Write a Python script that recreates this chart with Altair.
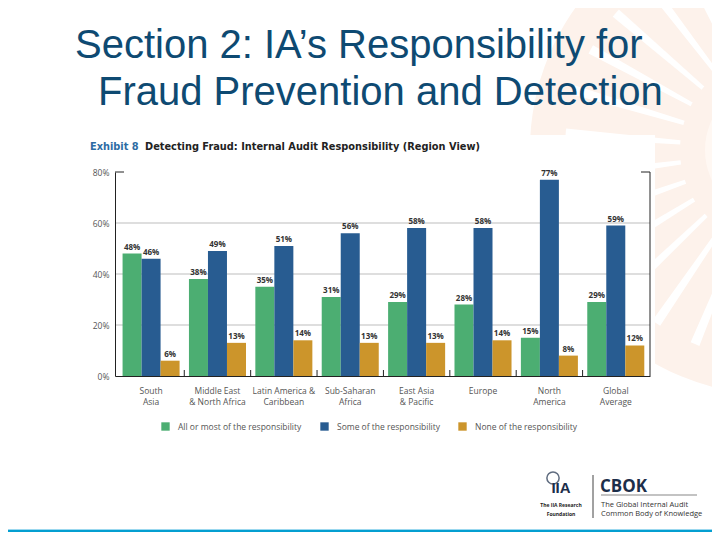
import altair as alt
import pandas as pd

# ---------------- data ----------------
region_labels = ["South|Asia", "Middle East|& North Africa", "Latin America &|Caribbean",
                 "Sub-Saharan|Africa", "East Asia|& Pacific", "Europe",
                 "North|America", "Global|Average"]
series = ["All or most of the responsibility", "Some of the responsibility",
          "None of the responsibility"]
all_most = [48, 38, 35, 31, 29, 28, 15, 29]
some = [46, 49, 51, 56, 58, 58, 77, 59]
none_ = [6, 13, 14, 13, 13, 14, 8, 12]
colors = ["#4cae72", "#285c91", "#cc952b"]
y_ticks = [0, 20, 40, 60, 80]
grid_values = [20, 40, 60]

rows = []
for i, r in enumerate(region_labels):
    for s, vals in zip(series, [all_most, some, none_]):
        rows.append({"region": r, "series": s, "value": vals[i]})
df = pd.DataFrame(rows)
sep_df = pd.DataFrame({"region": region_labels[:-1]})
grid_df = pd.DataFrame({"value": grid_values})

W, H = 535, 204
FONT = "Open Sans"
PAD_IN, PAD_OUT, ALIGN = 0.141, 0.1, 0.57

xscale = alt.Scale(domain=region_labels, paddingInner=PAD_IN, paddingOuter=PAD_OUT, align=ALIGN)
yscale = alt.Scale(domain=[0, 80], nice=False)

base = alt.Chart(df).encode(
    x=alt.X("region:N", sort=region_labels, scale=xscale,
            axis=alt.Axis(title=None, labelExpr="split(datum.label, '|')", labelAngle=0,
                          ticks=False, domainColor="#222", domainWidth=1, zindex=1,
                          labelFont=FONT, labelFontSize=8.5, labelColor="#555",
                          labelPadding=10, labelLineHeight=11)),
    xOffset=alt.XOffset("series:N", sort=series, scale=alt.Scale(domain=series)),
    y=alt.Y("value:Q", scale=yscale,
            axis=alt.Axis(values=y_ticks, title=None, ticks=False, domainColor="#222",
                          domainWidth=1, labelExpr="datum.value + '%'", grid=False, zindex=1,
                          labelFont=FONT, labelFontSize=8.5, labelColor="#555",
                          labelPadding=6)),
)

gridlines = alt.Chart(grid_df).mark_rule(color="#bdbdbd", strokeWidth=1).encode(
    y=alt.Y("value:Q", scale=yscale))

bars = base.mark_bar().encode(
    color=alt.Color("series:N", sort=series, scale=alt.Scale(domain=series, range=colors),
                    legend=alt.Legend(orient="none", legendX=46, legendY=250,
                                      direction="horizontal", title=None,
                                      symbolType="square", symbolSize=70,
                                      symbolStrokeWidth=0, labelFont=FONT,
                                      labelFontSize=8.5, labelColor="#555",
                                      columnPadding=18, labelOffset=8))
)

labels = base.transform_calculate(lbl="datum.value + '%'").mark_text(
    dy=-6, fontSize=8, fontWeight="bold", font=FONT, color="#333"
).encode(text="lbl:N")

# group separator ticks on the x axis (midway in the gap after each group)
step = W / (len(region_labels) - PAD_IN + 2 * PAD_OUT)
half_gap = step * PAD_IN / 2
seps = alt.Chart(sep_df).mark_rule(color="#222", xOffset=half_gap).encode(
    x=alt.X("region:N", sort=region_labels, scale=xscale, bandPosition=1),
    y=alt.value(H), y2=alt.value(H - 6)
)

one = pd.DataFrame({"a": [0]})

def txt(s, x, y, size, color, weight="normal", font=FONT, align="left"):
    return alt.Chart(one).mark_text(align=align, baseline="alphabetic", fontSize=size,
                                    fontWeight=weight, font=font, color=color).encode(
        x=alt.value(x), y=alt.value(y), text=alt.value(s))

def rule(x, x2, y, y2, color="#222", w=1):
    return alt.Chart(one).mark_rule(color=color, strokeWidth=w).encode(
        x=alt.value(x), x2=alt.value(x2), y=alt.value(y), y2=alt.value(y2))

def rect(x, x2, y, y2, color):
    return alt.Chart(one).mark_rect(color=color).encode(
        x=alt.value(x), x2=alt.value(x2), y=alt.value(y), y2=alt.value(y2))

# faint decorative sunburst in the slide background (top right)
CX, CY = 660, -22
disc = alt.Chart(one).mark_arc(color="#fdf2eb", innerRadius=0, outerRadius=245).encode(
    x=alt.value(CX), y=alt.value(CY), theta=alt.value(0), theta2=alt.value(6.2832))
rays = []
for k in range(14):
    a0 = 3.30 + k * 0.21
    rays.append(alt.Chart(one).mark_arc(color="white", innerRadius=95, outerRadius=210).encode(
        x=alt.value(CX), y=alt.value(CY), theta=alt.value(a0), theta2=alt.value(a0 + 0.045)))
inner = alt.Chart(one).mark_arc(color="#fff8f3", innerRadius=0, outerRadius=70).encode(
    x=alt.value(CX), y=alt.value(CY), theta=alt.value(0), theta2=alt.value(6.2832))
exhibit_bg = rect(-30, 540, -37, 268, "white")

deco = [
    rule(W, W, 0, H),
    rule(0, 9, 0, 0),
    rule(W - 9, W, 0, 0),
]

title1 = txt("Section 2: IA\u2019s Responsibility for", -40, -114, 40, "#0e4a72", font="Liberation Sans")
title2 = txt("Fraud Prevention and Detection", -17, -67, 40, "#0e4a72", font="Liberation Sans")
exh1 = txt("Exhibit 8", -25, -22, 9.8, "#2d6ca3", weight="bold", font="DejaVu Sans")
exh2 = txt("Detecting Fraud: Internal Audit Responsibility (Region View)", 30, -22, 9.8, "#222",
           weight="bold", font="DejaVu Sans")

# logos at bottom right
cbok = txt("CBOK", 485, 320, 17, "#1c2e4a", weight="bold")
cbok_line = rule(486, 582, 323, 323, color="#555", w=0.7)
cbok_t1 = txt("The Global Internal Audit", 486, 335, 7.5, "#333")
cbok_t2 = txt("Common Body of Knowledge", 486, 344, 7.5, "#333")
vline = rule(478, 478, 303, 346, color="#444", w=1)
globe = alt.Chart(one).mark_point(shape="circle", filled=False, size=150, color="#1c2e4a",
                                  strokeWidth=1.5).encode(x=alt.value(438), y=alt.value(306))
iia = txt("IIA", 446, 321, 15, "#1c2e4a", weight="bold", align="center", font="Liberation Sans")
iia_t1 = txt("The IIA Research", 446, 334.5, 5, "#222", weight="bold", align="center")
iia_t2 = txt("Foundation", 446, 343.5, 5, "#222", weight="bold", align="center")

bottom_light = rect(-107, 597, 357, 358, "#9bd8ef")
bottom_bar = rect(-107, 597, 358, 366, "#049fd1")

chart = alt.layer(
    disc, *rays, inner, exhibit_bg, gridlines,
    bars, labels, seps, *deco, title1, title2, exh1, exh2,
    cbok, cbok_line, cbok_t1, cbok_t2, vline, globe, iia, iia_t1, iia_t2,
    bottom_light, bottom_bar
).properties(
    width=W, height=H,
    autosize=alt.AutoSizeParams(type="none"),
    padding={"left": 107, "top": 164, "right": 62, "bottom": 156},
).configure_view(stroke=None).configure(background="white")

chart.save("out.html", embed_options={"renderer": "svg", "actions": False})
